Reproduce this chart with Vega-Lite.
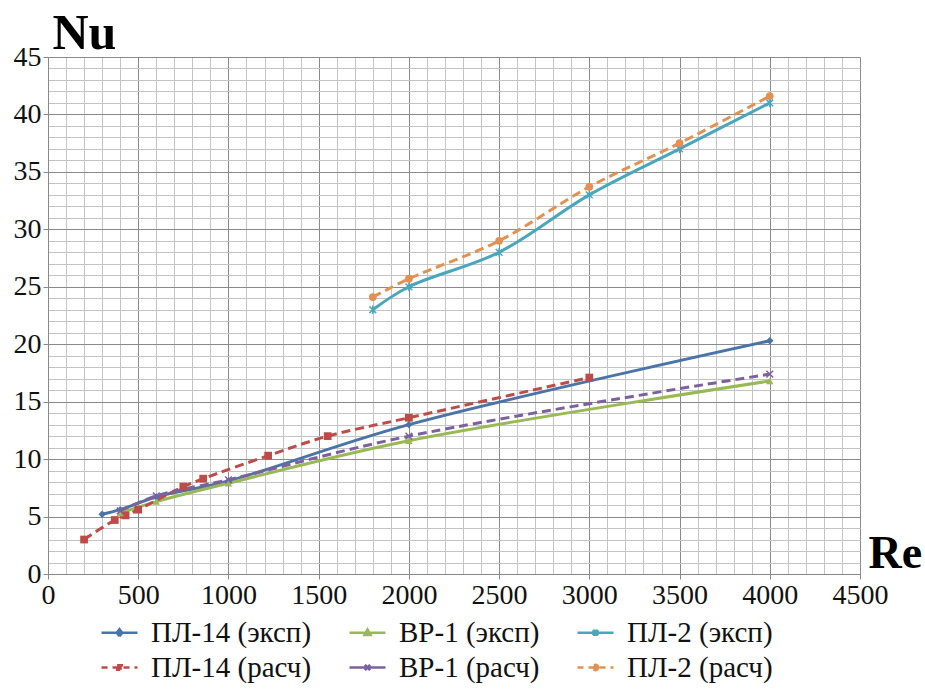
{
  "$schema": "https://vega.github.io/schema/vega-lite/v6.json",
  "autosize": "none",
  "width": 812,
  "height": 517,
  "padding": {"left": 48, "top": 57, "right": 65, "bottom": 126},
  "background": "white",
  "config": {
    "view": {"stroke": null},
    "font": "Liberation Serif",
    "axis": {"labelFont": "Liberation Serif", "labelFontWeight": "normal"},
    "legend": {"labelFont": "Liberation Serif", "labelFontWeight": "normal"}
  },
  "data": {"values": [
    {"s": "ПЛ-14 (эксп)", "Re": 300, "Nu": 5.2},
    {"s": "ПЛ-14 (эксп)", "Re": 400, "Nu": 5.6},
    {"s": "ПЛ-14 (эксп)", "Re": 600, "Nu": 6.7},
    {"s": "ПЛ-14 (эксп)", "Re": 1000, "Nu": 8.1},
    {"s": "ПЛ-14 (эксп)", "Re": 2000, "Nu": 13.0},
    {"s": "ПЛ-14 (эксп)", "Re": 4000, "Nu": 20.3},
    {"s": "ПЛ-14 (расч)", "Re": 200, "Nu": 3.0},
    {"s": "ПЛ-14 (расч)", "Re": 370, "Nu": 4.7},
    {"s": "ПЛ-14 (расч)", "Re": 430, "Nu": 5.1},
    {"s": "ПЛ-14 (расч)", "Re": 500, "Nu": 5.6},
    {"s": "ПЛ-14 (расч)", "Re": 750, "Nu": 7.6},
    {"s": "ПЛ-14 (расч)", "Re": 860, "Nu": 8.3},
    {"s": "ПЛ-14 (расч)", "Re": 1220, "Nu": 10.3},
    {"s": "ПЛ-14 (расч)", "Re": 1550, "Nu": 12.0},
    {"s": "ПЛ-14 (расч)", "Re": 2000, "Nu": 13.6},
    {"s": "ПЛ-14 (расч)", "Re": 3000, "Nu": 17.1},
    {"s": "ВР-1 (эксп)", "Re": 400, "Nu": 5.3},
    {"s": "ВР-1 (эксп)", "Re": 600, "Nu": 6.3},
    {"s": "ВР-1 (эксп)", "Re": 1000, "Nu": 7.9},
    {"s": "ВР-1 (эксп)", "Re": 2000, "Nu": 11.6},
    {"s": "ВР-1 (эксп)", "Re": 4000, "Nu": 16.8},
    {"s": "ВР-1 (расч)", "Re": 400, "Nu": 5.5},
    {"s": "ВР-1 (расч)", "Re": 600, "Nu": 6.8},
    {"s": "ВР-1 (расч)", "Re": 1000, "Nu": 8.2},
    {"s": "ВР-1 (расч)", "Re": 2000, "Nu": 12.0},
    {"s": "ВР-1 (расч)", "Re": 4000, "Nu": 17.4},
    {"s": "ПЛ-2 (эксп)", "Re": 1800, "Nu": 23.0},
    {"s": "ПЛ-2 (эксп)", "Re": 2000, "Nu": 25.0},
    {"s": "ПЛ-2 (эксп)", "Re": 2500, "Nu": 28.0},
    {"s": "ПЛ-2 (эксп)", "Re": 3000, "Nu": 33.0},
    {"s": "ПЛ-2 (эксп)", "Re": 3500, "Nu": 37.0},
    {"s": "ПЛ-2 (эксп)", "Re": 4000, "Nu": 41.0},
    {"s": "ПЛ-2 (расч)", "Re": 1800, "Nu": 24.1},
    {"s": "ПЛ-2 (расч)", "Re": 2000, "Nu": 25.7},
    {"s": "ПЛ-2 (расч)", "Re": 2500, "Nu": 29.0},
    {"s": "ПЛ-2 (расч)", "Re": 3000, "Nu": 33.7},
    {"s": "ПЛ-2 (расч)", "Re": 3500, "Nu": 37.5},
    {"s": "ПЛ-2 (расч)", "Re": 4000, "Nu": 41.6}
  ]},
  "encoding": {
    "x": {
      "field": "Re", "type": "quantitative",
      "scale": {"domain": [0, 4500], "nice": false, "zero": true},
      "axis": {
        "values": [0,100,200,300,400,500,600,700,800,900,1000,1100,1200,1300,1400,1500,1600,1700,1800,1900,2000,2100,2200,2300,2400,2500,2600,2700,2800,2900,3000,3100,3200,3300,3400,3500,3600,3700,3800,3900,4000,4100,4200,4300,4400,4500],
        "labelExpr": "datum.value % 500 === 0 ? datum.label : ''",
        "format": "d",
        "labelFont": "Liberation Serif", "labelFontSize": 28, "labelColor": "#111",
        "labelPadding": 2, "labelFlush": false, "labelOverlap": false,
        "tickSize": 5,
        "tickColor": "#888",
        "tickOpacity": {"condition": {"test": "datum.value % 500 === 0", "value": 1}, "value": 0},
        "domainColor": "#888",
        "grid": true,
        "gridColor": {"condition": {"test": "datum.value % 500 === 0", "value": "#8a8a8a"}, "value": "#c4c4c4"},
        "gridWidth": 1,
        "title": "Re",
        "titleFont": "Liberation Serif", "titleFontSize": 46, "titleFontWeight": "bold", "titleColor": "#000",
        "titleAnchor": "start", "titleAlign": "left", "titleBaseline": "alphabetic",
        "titleX": 820, "titleY": -7
      }
    },
    "y": {
      "field": "Nu", "type": "quantitative",
      "scale": {"domain": [0, 45], "nice": false},
      "axis": {
        "values": [0,1,2,3,4,5,6,7,8,9,10,11,12,13,14,15,16,17,18,19,20,21,22,23,24,25,26,27,28,29,30,31,32,33,34,35,36,37,38,39,40,41,42,43,44,45],
        "labelExpr": "datum.value % 5 === 0 ? datum.label : ''",
        "labelFont": "Liberation Serif", "labelFontSize": 28, "labelColor": "#111",
        "labelPadding": 2, "labelFlush": false, "labelOverlap": false,
        "tickSize": 5,
        "tickColor": "#888",
        "tickOpacity": {"condition": {"test": "datum.value % 5 === 0", "value": 1}, "value": 0},
        "domainColor": "#888",
        "grid": true,
        "gridColor": {"condition": {"test": "datum.value % 5 === 0", "value": "#8a8a8a"}, "value": "#c4c4c4"},
        "gridWidth": 1,
        "title": "Nu",
        "titleFont": "Liberation Serif", "titleFontSize": 50, "titleFontWeight": "bold", "titleColor": "#000",
        "titleAngle": 0, "titleAlign": "left", "titleBaseline": "alphabetic",
        "titleX": 4, "titleY": -9
      }
    },
    "color": {
      "field": "s", "type": "nominal",
      "scale": {
        "domain": ["ПЛ-14 (эксп)", "ВР-1 (эксп)", "ПЛ-2 (эксп)", "ПЛ-14 (расч)", "ВР-1 (расч)", "ПЛ-2 (расч)"],
        "range": ["#4a74a8", "#98b954", "#4aa6bd", "#be4b48", "#7d60a0", "#e39150"]
      },
      "legend": {
        "orient": "none", "legendX": 52, "legendY": 556,
        "direction": "horizontal", "columns": 3, "title": null,
        "labelFont": "Liberation Serif", "labelFontSize": 29, "labelColor": "#111",
        "symbolSize": 1296, "symbolStrokeWidth": 2.5, "labelOffset": 12,
        "columnPadding": 32, "rowPadding": -2, "labelLimit": 300,
        "encode": {
          "labels": {"update": {"font": {"value": "Liberation Serif"}}},
          "symbols": {"update": {
            "fill": {"scale": "color", "field": "value"},
            "stroke": {"scale": "color", "field": "value"},
            "strokeWidth": {"value": 2.5},
            "opacity": {"value": 1},
            "shape": {"signal": "datum.value === 'ПЛ-14 (эксп)' ? 'M-1,0H1M0,-0.2L0.15,0L0,0.2L-0.15,0Z' : datum.value === 'ПЛ-14 (расч)' ? 'M-1,0H1M-0.13,-0.13H0.13V0.13H-0.13Z' : datum.value === 'ВР-1 (эксп)' ? 'M-1,0H1M0,-0.18L0.17,0.12L-0.17,0.12Z' : datum.value === 'ВР-1 (расч)' ? 'M-1,0H1M-0.15,-0.15L0.15,0.15M-0.15,0.15L0.15,-0.15' : datum.value === 'ПЛ-2 (эксп)' ? 'M-1,0H1M-0.15,-0.15L0.15,0.15M-0.15,0.15L0.15,-0.15M0,-0.18V0.18' : 'M-1,0H1M0.15,0A0.15,0.15,0,1,1,-0.15,0A0.15,0.15,0,1,1,0.15,0Z'"},
            "strokeDash": {"signal": "datum.value === 'ПЛ-14 (расч)' || datum.value === 'ПЛ-2 (расч)' ? [6,5] : [1,0]"}
          }}
        }
      }
    }
  },
  "layer": [
    {
      "transform": [{"filter": {"field": "s", "oneOf": ["ПЛ-14 (эксп)", "ВР-1 (эксп)", "ПЛ-2 (эксп)"]}}],
      "mark": {"type": "line", "interpolate": "catmull-rom", "strokeWidth": 3}
    },
    {
      "transform": [{"filter": {"field": "s", "oneOf": ["ПЛ-14 (расч)", "ВР-1 (расч)", "ПЛ-2 (расч)"]}}],
      "mark": {"type": "line", "interpolate": "catmull-rom", "strokeWidth": 3, "strokeDash": [9, 5]}
    },
    {
      "transform": [{"filter": {"field": "s", "equal": "ПЛ-14 (эксп)"}}],
      "mark": {"type": "point", "shape": "diamond", "filled": true, "opacity": 1, "size": 55}
    },
    {
      "transform": [{"filter": {"field": "s", "equal": "ПЛ-14 (расч)"}}],
      "mark": {"type": "point", "shape": "square", "filled": true, "opacity": 1, "size": 60}
    },
    {
      "transform": [{"filter": {"field": "s", "equal": "ВР-1 (эксп)"}}],
      "mark": {"type": "point", "shape": "triangle-up", "filled": true, "opacity": 1, "size": 55}
    },
    {
      "transform": [{"filter": {"field": "s", "equal": "ВР-1 (расч)"}}],
      "mark": {"type": "point", "shape": "M-1,-1L1,1M-1,1L1,-1", "filled": false, "opacity": 1, "size": 45, "strokeWidth": 1.5}
    },
    {
      "transform": [{"filter": {"field": "s", "equal": "ПЛ-2 (эксп)"}}],
      "mark": {"type": "point", "shape": "M-1,-1L1,1M-1,1L1,-1M0,-1.3V1.3", "filled": false, "opacity": 1, "size": 45, "strokeWidth": 1.5}
    },
    {
      "transform": [{"filter": {"field": "s", "equal": "ПЛ-2 (расч)"}}],
      "mark": {"type": "point", "shape": "circle", "filled": true, "opacity": 1, "size": 60}
    }
  ]
}
